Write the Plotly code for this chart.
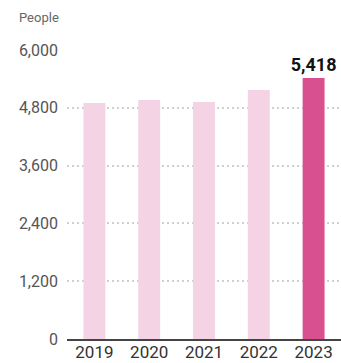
import plotly.graph_objects as go

years = ["2019", "2020", "2021", "2022", "2023"]
people = [4900, 4960, 4920, 5170, 5418]
y_ticks = [0, 1200, 2400, 3600, 4800, 6000]
y_tick_labels = ["0", "1,200", "2,400", "3,600", "4,800", "6,000"]

light = "#F3D3E4"
dark = "#D95091"
colors = [light] * (len(years) - 1) + [dark]
labels = [""] * (len(years) - 1) + [f"{people[-1]:,}"]

fig = go.Figure(
    go.Bar(
        x=years,
        y=people,
        marker=dict(color=colors, line=dict(width=0)),
        width=0.4,
        text=labels,
        textposition="outside",
        constraintext="none",
        textfont=dict(family="Roboto", size=18, color="#111111", weight="bold"),
        cliponaxis=False,
        hoverinfo="skip",
    )
)

fig.update_layout(
    width=341,
    height=363,
    margin=dict(l=67, r=0, t=50, b=24),
    paper_bgcolor="white",
    plot_bgcolor="white",
    showlegend=False,
    font=dict(family="Roboto", color="#444444"),
    xaxis=dict(
        type="category",
        showgrid=False,
        showline=True,
        linecolor="#444444",
        linewidth=2,
        tickfont=dict(size=17, color="#333333"),
        ticks="",
        ticklabelstandoff=-3,
        range=[-0.5, 4.5],
    ),
    yaxis=dict(
        range=[0, 6000],
        tickvals=y_ticks,
        ticktext=y_tick_labels,
        tickfont=dict(size=16, color="#555555"),
        showgrid=True,
        gridcolor="#CFCFCF",
        griddash="2px,3px",
        gridwidth=1.5,
        zeroline=False,
        showline=False,
        ticks="",
        ticklabelstandoff=8,
    ),
    annotations=[
        dict(
            text="People",
            xref="paper",
            yref="paper",
            x=-67 / 274,
            y=1,
            yshift=33,
            xanchor="left",
            yanchor="middle",
            xshift=17,
            showarrow=False,
            font=dict(family="Roboto", size=13, color="#666666"),
        )
    ],
    bargap=0.6,
)

fig.write_html("out.html")
